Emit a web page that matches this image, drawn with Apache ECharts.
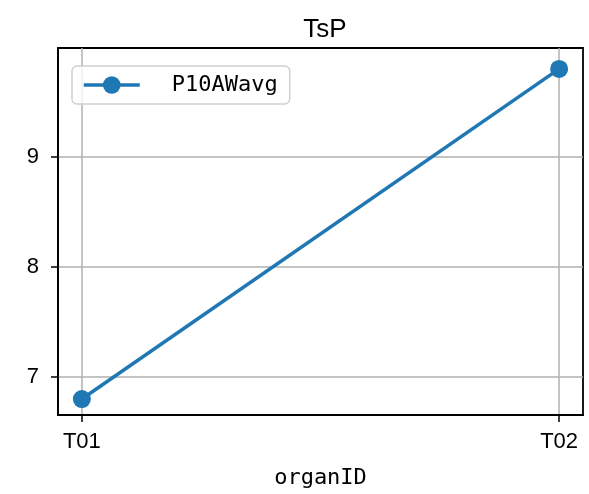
<!DOCTYPE html>
<html><head><meta charset="utf-8">
<script src="https://cdn.jsdelivr.net/npm/echarts@6/dist/echarts.min.js"></script>
<style>html,body{margin:0;padding:0;background:#fff}#c{width:589px;height:494px}</style>
</head><body><div id="c"></div>
<script>
const categories = ['T01', 'T02'];
const seriesName = 'P10AWavg';
const values = [6.8, 9.8];
const yTicks = [7, 8, 9];
const titleText = 'TsP';
const xName = 'organID';

const SANS = '"Liberation Sans", Arial, sans-serif';
const MONO = '"DejaVu Sans Mono", "Liberation Mono", monospace';
const chart = echarts.init(document.getElementById('c'), null, {renderer: 'canvas'});
const data = values.map((v, i) => [i, v]);
chart.setOption({
  animation: false,
  backgroundColor: '#fff',
  title: {text: titleText, left: 320, top: 12, textAlign: 'center',
    textStyle: {fontFamily: SANS, fontSize: 26, fontWeight: 'normal', color: '#000'}},
  grid: {left: 58, right: 6, top: 48, bottom: 79, show: true, borderColor: '#000', borderWidth: 1.8, backgroundColor: 'transparent'},
  legend: {
    left: 72, top: 66, orient: 'vertical',
    data: [seriesName],
    itemWidth: 56, itemHeight: 22, itemGap: 0,
    padding: [8, 12, 8, 10],
    borderColor: '#d0d0d0', borderWidth: 1.5, borderRadius: 5,
    backgroundColor: 'rgba(255,255,255,0.8)',
    lineStyle: {width: 3.5},
    textStyle: {fontFamily: MONO, fontSize: 22, color: '#000', padding: [0, 0, 0, 27]}
  },
  xAxis: {
    type: 'value', min: -0.05, max: 1.05,
    name: xName, nameLocation: 'middle', nameGap: 52,
    nameTextStyle: {fontFamily: MONO, fontSize: 22, color: '#000'},
    axisLine: {show: true, onZero: false, lineStyle: {color: '#000', width: 1.8}},
    axisTick: {show: true, customValues: [0, 1], length: 7, lineStyle: {color: '#000', width: 1.5}},
    axisLabel: {customValues: [0, 1], formatter: v => categories[Math.round(v)], fontFamily: SANS, fontSize: 22, color: '#000', margin: 16},
    splitLine: {show: true, lineStyle: {color: '#b0b0b0', width: 1.5}}
  },
  yAxis: {
    type: 'value', min: 6.655, max: 9.99,
    axisLine: {show: true, onZero: false, lineStyle: {color: '#000', width: 1.8}},
    axisTick: {show: true, customValues: yTicks, length: 7, lineStyle: {color: '#000', width: 1.5}},
    axisLabel: {customValues: yTicks, fontFamily: SANS, fontSize: 22, color: '#000', margin: 19},
    splitLine: {show: true, lineStyle: {color: '#b0b0b0', width: 1.5}}
  },
  series: [{
    name: seriesName, type: 'line', data: data,
    symbol: 'circle', symbolSize: 18,
    lineStyle: {color: '#1f77b4', width: 3.5},
    itemStyle: {color: '#1f77b4'}
  }]
});
</script></body></html>
